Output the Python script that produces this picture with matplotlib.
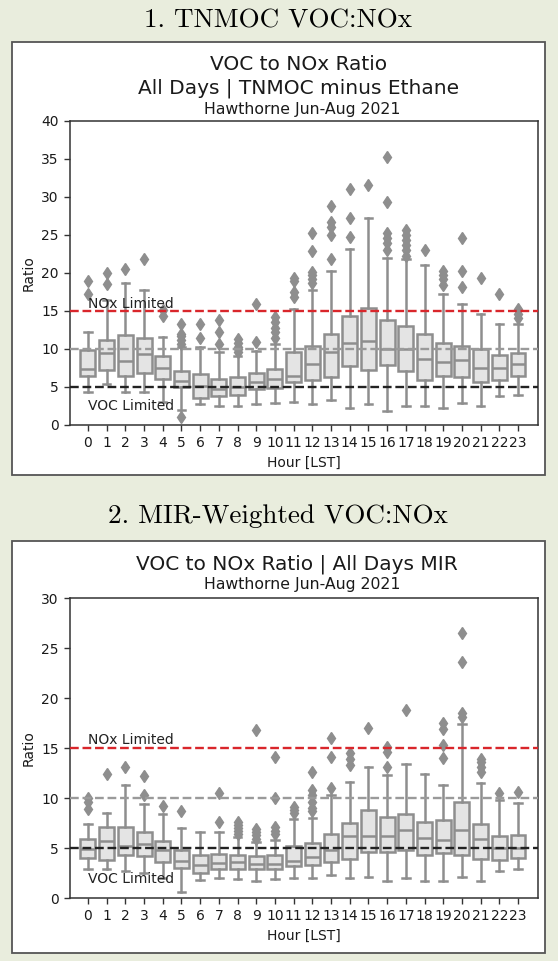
import matplotlib
matplotlib.use("Agg")
import matplotlib.pyplot as plt
from matplotlib.patches import Rectangle

# ---- data (hourly VOC:NOx box plots) ----
hours = list(range(24))
hour_labels = [str(h) for h in hours]

# 1. TNMOC minus ethane
tnmoc_lo = [4.35, 5.4, 4.35, 4.35, 3.0, 1.96, 2.7, 2.5, 2.5, 2.7, 2.85, 3.05,
            2.7, 3.25, 2.3, 2.7, 1.85, 2.5, 2.5, 2.25, 2.85, 2.5, 3.8, 3.9]
tnmoc_q1 = [6.4, 7.3, 6.5, 6.9, 6.1, 5.0, 3.6, 3.8, 3.9, 4.8, 4.9, 5.65,
            5.9, 6.3, 7.8, 7.25, 7.95, 7.1, 5.95, 6.5, 6.3, 5.65, 5.95, 6.5]
tnmoc_med = [7.4, 9.5, 8.4, 9.4, 7.5, 5.85, 5.1, 4.8, 5.0, 5.65, 6.0, 6.5,
             8.0, 9.55, 10.8, 11.1, 10.0, 10.0, 8.7, 8.25, 8.55, 7.5, 7.5, 8.05]
tnmoc_q3 = [9.85, 11.15, 11.8, 11.4, 9.1, 7.1, 6.65, 6.1, 6.3, 6.85, 7.4, 9.65,
            10.4, 11.95, 14.35, 15.4, 13.8, 13.0, 11.95, 10.85, 10.4, 10.0, 9.15, 9.45]
tnmoc_hi = [12.2, 16.5, 18.7, 17.8, 11.6, 10.2, 10.2, 9.65, 9.1, 9.8, 10.65, 15.2,
            17.7, 20.2, 23.1, 27.3, 22.0, 21.8, 21.0, 17.2, 15.9, 14.6, 13.3, 13.35]
tnmoc_fliers = [
    [17.2, 18.9], [18.6, 20.0], [20.5], [21.9], [14.4, 15.1],
    [1.0, 10.7, 11.2, 11.7, 12.0, 13.3], [11.4, 13.3], [10.6, 12.2, 13.8],
    [9.6, 10.0, 10.3, 10.8, 11.3], [10.9, 15.9], [11.5, 12.2, 12.8, 13.5, 14.2],
    [16.9, 17.5, 18.9, 19.3], [18.7, 19.2, 19.7, 20.1, 22.9, 25.3],
    [21.8, 25.0, 26.0, 26.7, 28.8], [24.7, 27.3, 31.1], [31.6],
    [23.0, 24.0, 24.6, 25.3, 29.4, 35.3], [22.3, 23.0, 23.7, 24.4, 25.0, 25.6],
    [23.0], [18.4, 19.2, 19.8, 20.3], [18.1, 20.3, 24.6], [19.3], [17.2],
    [14.1, 14.6, 15.2],
]

# 2. MIR-weighted
mir_lo = [2.9, 2.9, 2.75, 2.55, 2.05, 0.65, 1.85, 2.05, 1.9, 1.75, 1.9, 2.05,
          2.05, 2.3, 2.05, 2.15, 1.75, 2.05, 1.75, 1.75, 2.15, 1.75, 2.7, 2.9]
mir_q1 = [4.05, 3.85, 4.35, 4.25, 3.65, 3.05, 2.55, 2.9, 2.95, 2.95, 2.95, 3.2,
          3.35, 3.65, 3.95, 4.65, 4.65, 4.8, 4.35, 4.55, 4.35, 3.9, 3.85, 4.05]
mir_med = [4.95, 5.7, 5.2, 5.45, 4.8, 3.75, 3.3, 3.55, 3.65, 3.45, 3.45, 3.75,
           4.15, 4.85, 6.2, 6.2, 6.2, 6.8, 6.05, 5.8, 6.85, 5.9, 5.05, 5.05]
mir_q3 = [5.9, 7.15, 7.15, 6.65, 5.75, 4.85, 4.3, 4.45, 4.35, 4.25, 4.35, 5.2,
          5.55, 6.45, 7.55, 8.8, 8.15, 8.4, 7.65, 7.85, 9.65, 7.45, 6.25, 6.3]
mir_hi = [7.45, 8.55, 11.35, 9.45, 8.45, 7.05, 6.65, 6.65, 6.15, 5.65, 5.8, 7.95,
          8.0, 10.3, 11.65, 13.15, 12.3, 13.45, 12.45, 11.35, 17.45, 11.55, 9.8, 9.55]
mir_fliers = [
    [8.9, 9.6, 10.0], [12.4], [13.1], [10.3, 12.2], [9.2], [8.7], [],
    [7.6, 10.5], [6.4, 6.7, 7.0, 7.3, 7.6], [5.9, 6.3, 6.6, 6.9, 16.8],
    [6.4, 6.7, 7.1, 10.0, 14.1], [8.5, 8.8, 9.1], [8.7, 9.0, 9.6, 10.3, 10.8, 12.6],
    [11.0, 14.1, 16.0], [13.3, 13.9, 14.5], [17.0], [13.1, 14.6, 15.1], [18.8],
    [], [14.0, 15.3, 16.9, 17.5], [18.1, 18.5, 23.6, 26.5],
    [12.6, 13.1, 13.6, 13.9], [10.5], [10.6],
]

# reference lines
nox_limit = 15
mid_line = 10
voc_limit = 5

W, H = 558, 961
BG = '#e9eddd'
BOX_FACE = '#e4e4e4'
BOX_EDGE = '#8e8e8e'


def fx(px):
    return px / W


def fy(px):
    return 1 - px / H


def draw_panel(ax, lo, q1, med, q3, hi, fliers, ymax, voc_text_y):
    stats = []
    for i in range(len(hours)):
        stats.append(dict(whislo=lo[i], q1=q1[i], med=med[i], q3=q3[i],
                          whishi=hi[i], fliers=fliers[i]))
    lw = 1.8
    ax.bxp(stats, positions=hours, widths=0.8, patch_artist=True,
           boxprops=dict(facecolor=BOX_FACE, edgecolor=BOX_EDGE, linewidth=lw),
           whiskerprops=dict(color=BOX_EDGE, linewidth=lw),
           capprops=dict(color=BOX_EDGE, linewidth=lw),
           medianprops=dict(color=BOX_EDGE, linewidth=lw),
           flierprops=dict(marker='d', markerfacecolor=BOX_EDGE,
                           markeredgecolor=BOX_EDGE, markersize=6))

    ax.axhline(nox_limit, color='#d9262b', ls='--', lw=1.7, zorder=5)
    ax.axhline(mid_line, color='#9a9a9a', ls='--', lw=1.7, zorder=5)
    ax.axhline(voc_limit, color='#222222', ls='--', lw=1.7, zorder=5)
    ax.text(0, nox_limit + 0.45, 'NOx Limited', fontsize=10, color='#222222',
            ha='left', va='baseline', zorder=6)
    ax.text(0, voc_text_y, 'VOC Limited', fontsize=10, color='#222222',
            ha='left', va='baseline', zorder=6)

    ax.set_xlim(-0.96, 24.07)
    ax.set_ylim(0, ymax)
    ax.set_yticks(range(0, ymax + 1, 5))
    ax.set_xticks(hours)
    ax.set_xticklabels(hour_labels)
    ax.tick_params(labelsize=10, length=4.5, width=1, color='#333333',
                   labelcolor='#1a1a1a')
    for s in ax.spines.values():
        s.set_color('#333333')
        s.set_linewidth(1.1)
    ax.set_xlabel('Hour [LST]', fontsize=10, color='#1a1a1a')
    ax.set_ylabel('Ratio', fontsize=10, color='#1a1a1a')


fig = plt.figure(figsize=(W / 100, H / 100), dpi=100, facecolor=BG)

# white frames around each chart
for top, bottom in [(42, 475), (541, 953)]:
    fig.add_artist(Rectangle((fx(12), fy(bottom)), fx(533), (bottom - top) / H,
                             transform=fig.transFigure, facecolor='white',
                             edgecolor='#555555', linewidth=1.3, zorder=-5))

header_font = ['cmr10', 'DejaVu Serif']
fig.text(fx(278), fy(27.5), '1. TNMOC VOC:NOx', fontsize=19.5,
         family=header_font, ha='center', va='baseline', color='#000000')
fig.text(fx(278), fy(523), '2. MIR-Weighted VOC:NOx', fontsize=19.5,
         family=header_font, ha='center', va='baseline', color='#000000')

# panel 1
ax1 = fig.add_axes([fx(70), fy(425), fx(468), 304 / H])
draw_panel(ax1, tnmoc_lo, tnmoc_q1, tnmoc_med, tnmoc_q3, tnmoc_hi,
           tnmoc_fliers, 40, 1.95)
fig.text(fx(299), fy(70.5), 'VOC to NOx Ratio', fontsize=14.5,
         ha='center', va='baseline', color='#1a1a1a')
fig.text(fx(299), fy(93), 'All Days | TNMOC minus Ethane', fontsize=14.5,
         ha='center', va='baseline', color='#1a1a1a')
fig.text(fx(302), fy(114), 'Hawthorne Jun-Aug 2021', fontsize=11.3,
         ha='center', va='baseline', color='#1a1a1a')

# panel 2
ax2 = fig.add_axes([fx(70), fy(898), fx(468), 300 / H])
draw_panel(ax2, mir_lo, mir_q1, mir_med, mir_q3, mir_hi, mir_fliers, 30, 1.5)
fig.text(fx(297), fy(569.5), 'VOC to NOx Ratio | All Days MIR', fontsize=14.5,
         ha='center', va='baseline', color='#1a1a1a')
fig.text(fx(302), fy(589.5), 'Hawthorne Jun-Aug 2021', fontsize=11.3,
         ha='center', va='baseline', color='#1a1a1a')

fig.savefig('out.png', dpi=100, facecolor=BG)
